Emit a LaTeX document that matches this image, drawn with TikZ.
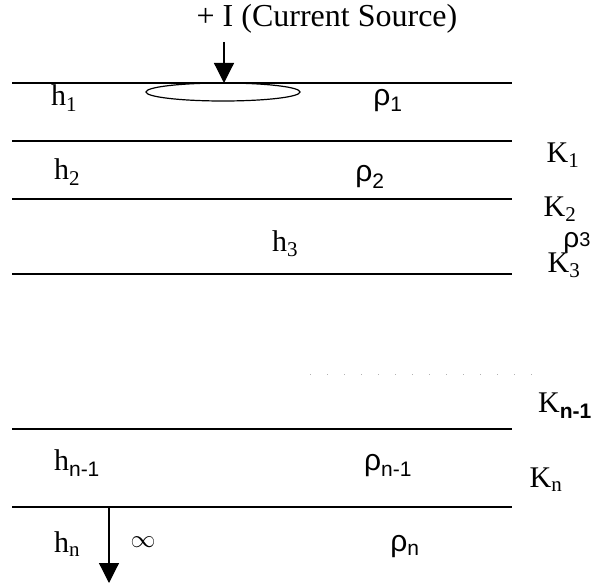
\documentclass[tikz,border=0pt]{standalone}
\usepackage{fontspec}
\setmainfont{Liberation Serif}
\newfontfamily\rhofont{Liberation Sans}
\usetikzlibrary{arrows.meta}

\newcommand{\lay}[2]{#1\textsubscript{#2}}
\newcommand{\rhosub}[1]{{\rhofont ρ\textsubscript{#1}}}

\begin{document}
\begin{tikzpicture}[
    x=1pt, y=-1pt,
    >={Triangle[width=20pt,length=20pt]},
    every node/.style={font=\fontsize{30}{34}\selectfont, inner sep=0pt},
    bound/.style={line width=1.6pt},
    feed/.style={->, line width=1.2pt}
]
\useasboundingbox (0,0) rectangle (592,585);
% layer boundaries
\foreach \yy in {83,141,199,274,429,507}
  \draw[bound] (12,\yy) -- (512,\yy);
\draw[gray!60, line width=1pt, dash pattern=on 1pt off 16pt] (310,375) -- (543,375);

\node[font=\fontsize{32}{36}\selectfont] (title) at (327,19) {+ I (Current Source)};
\coordinate (src) at (224,42);
\coordinate (inj) at (224,83);
\draw[feed] (src) -- (inj);
\draw[line width=1.2pt] (223,92) ellipse [x radius=77, y radius=9];

\node (h1) at (64,98) {\lay{h}{1}};
\node (r1) at (388,101) {\rhosub{1}};
\node (k1) at (563,155) {\lay{K}{1}};
\node (h2) at (67,172) {\lay{h}{2}};
\node (r2) at (370,177) {\rhosub{2}};
\node (k2) at (560,209) {\lay{K}{2}};
\node (h3) at (285,244) {\lay{h}{3}};
\node (k3) at (564,265) {\lay{K}{3}};
\node[font=\fontsize{28}{30}\selectfont] (r3) at (577,243) {{\rhofont ρ\raisebox{1pt}{\fontsize{20}{22}\selectfont 3}}};
\node (kn1) at (565,406) {\lay{K}{{\rhofont\bfseries n-1}}};
\node (hn1) at (77,463) {\lay{h}{{\rhofont n-1}}};
\node (rn1) at (388,466) {\rhosub{n-1}};
\node (kn) at (546,480) {\lay{K}{n}};
\node (hn) at (67,544) {\lay{h}{n}};
\node (inf) at (143,542) {$\infty$};
\node (rn) at (405,547) {\rhosub{n}};

\coordinate (top) at (109,507);
\coordinate (deep) at (109,583);
\draw[feed] (top) -- (deep);
\end{tikzpicture}
\end{document}
